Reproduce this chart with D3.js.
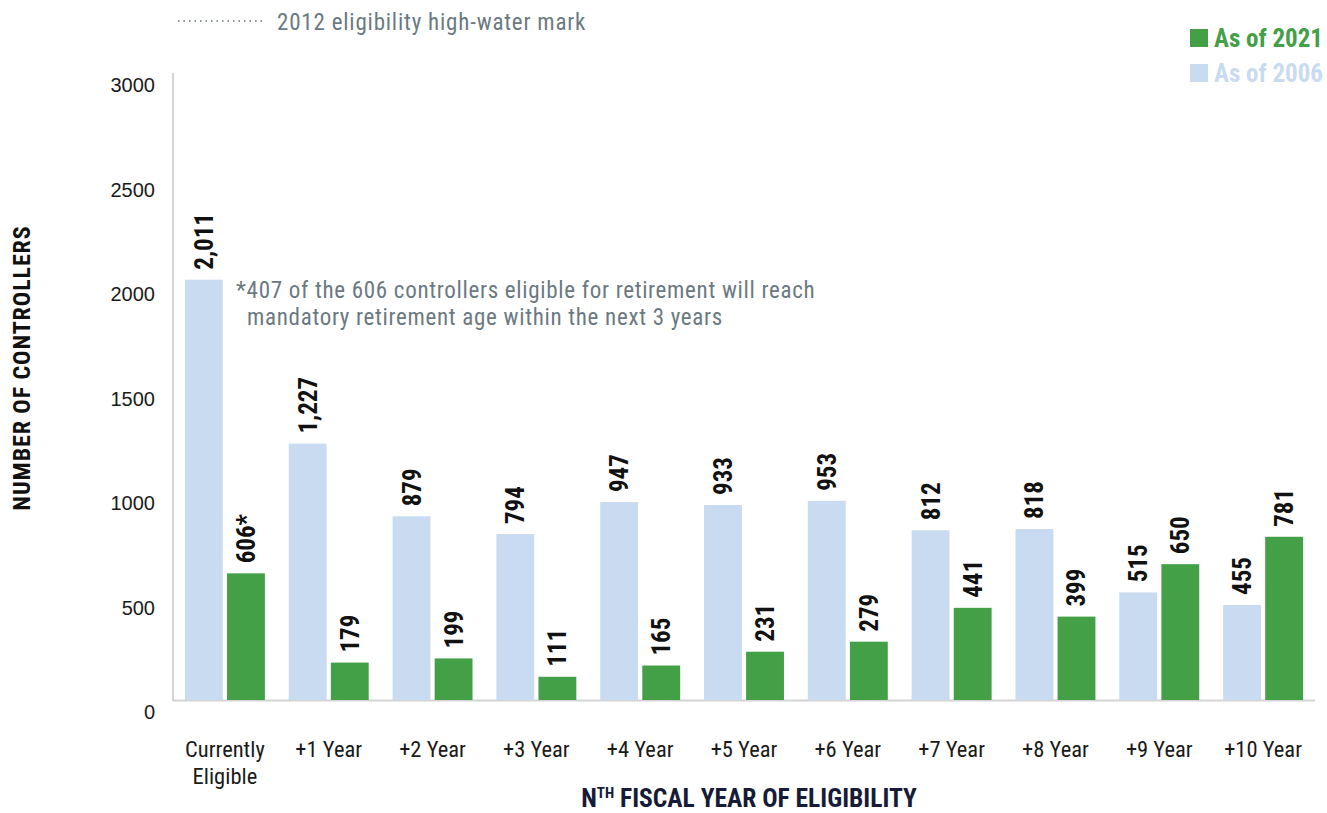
<!DOCTYPE html>
<html>
<head>
<meta charset="utf-8">
<script src="https://cdn.jsdelivr.net/npm/d3@7"></script>
<style>
  html, body { margin: 0; padding: 0; background: #fff; }
  svg { display: block; }
</style>
</head>
<body>
<svg id="chart" width="1327" height="813"></svg>
<script>
// Fiscal-year buckets of retirement eligibility
const categories = ["Currently Eligible", "+1 Year", "+2 Year", "+3 Year", "+4 Year", "+5 Year",
                    "+6 Year", "+7 Year", "+8 Year", "+9 Year", "+10 Year"];
// Controllers eligible, snapshot of 2006
const asOf2006 = [2011, 1227, 879, 794, 947, 933, 953, 812, 818, 515, 455];
// Controllers eligible, snapshot of 2021
const asOf2021 = [606, 179, 199, 111, 165, 231, 279, 441, 399, 650, 781];
const seriesNames = ["As of 2006", "As of 2021"];
const yTicks = [0, 500, 1000, 1500, 2000, 2500, 3000];
const footnote = ["*407 of the 606 controllers eligible for retirement will reach",
                  "mandatory retirement age within the next 3 years"];

const C_BLUE = "#c9dbf0", C_GREEN = "#43a047", C_GRAY = "#6b7982", C_NAVY = "#161b38";
const COND = "'Liberation Sans Narrow', 'Roboto Condensed', 'Arial Narrow', sans-serif";
const REG = "'Liberation Sans', Arial, sans-serif";

const svg = d3.select("#chart");
const m = { left: 173, right: 1315, top: 73, bottom: 700 };

const x = d3.scaleBand().domain(categories).range([m.left, m.right])
  .paddingInner(0.23).paddingOuter(0.115);
const xs = d3.scaleBand().domain(seriesNames).range([0, x.bandwidth()]).paddingInner(0.1);
const y = d3.scaleLinear().domain([0, 3000]).range([m.bottom, m.top]);
const color = d3.scaleOrdinal().domain(seriesNames).range([C_BLUE, C_GREEN]);

const rows = categories.map((c, i) => ({
  cat: c,
  vals: [
    { s: "As of 2006", v: asOf2006[i], label: d3.format(",")(asOf2006[i]) },
    { s: "As of 2021", v: asOf2021[i], label: d3.format(",")(asOf2021[i]) + (i === 0 ? "*" : "") }
  ]
}));

// axis lines
svg.append("line").attr("x1", m.left).attr("x2", m.left).attr("y1", m.top).attr("y2", m.bottom + 1)
  .attr("stroke", "#d4d4d4").attr("stroke-width", 2);
svg.append("line").attr("x1", m.left).attr("x2", m.right).attr("y1", m.bottom + 0.5).attr("y2", m.bottom + 0.5)
  .attr("stroke", "#d4d4d4").attr("stroke-width", 2);

// y tick labels
svg.append("g").selectAll("text").data(yTicks).join("text")
  .attr("x", 155).attr("y", d => y(d) + 19)
  .attr("text-anchor", "end")
  .attr("font-family", REG).attr("font-size", 20).attr("fill", "#1a1a1a")
  .text(d => d);

// bars
const groups = svg.append("g").selectAll("g").data(rows).join("g")
  .attr("transform", d => `translate(${x(d.cat)},0)`);
groups.selectAll("rect").data(d => d.vals).join("rect")
  .attr("x", d => xs(d.s)).attr("width", xs.bandwidth())
  .attr("y", d => y(d.v)).attr("height", d => y(0) - y(d.v))
  .attr("fill", d => color(d.s));

// rotated value labels
groups.selectAll("text.val").data(d => d.vals).join("text")
  .attr("class", "val")
  .attr("transform", d => `translate(${xs(d.s) + xs.bandwidth() / 2},${y(d.v) - 10}) rotate(-90)`)
  .attr("dy", "0.36em")
  .attr("font-family", COND).attr("font-weight", "bold").attr("font-size", 25)
  .attr("fill", "#111")
  .text(d => d.label);

// category labels
const catG = svg.append("g").selectAll("text").data(categories).join("text")
  .attr("x", d => x(d) + x.bandwidth() / 2)
  .attr("y", 757)
  .attr("text-anchor", "middle")
  .attr("font-family", COND).attr("font-size", 22.5).attr("fill", "#1a1a1a");
catG.each(function (d) {
  const t = d3.select(this);
  const parts = d === "Currently Eligible" ? ["Currently", "Eligible"] : [d];
  parts.forEach((p, i) => {
    t.append("tspan").attr("x", x(d) + x.bandwidth() / 2).attr("dy", i === 0 ? 0 : 27).text(p);
  });
});

// axis titles
const xt = svg.append("text").attr("x", 749).attr("y", 807).attr("text-anchor", "middle")
  .attr("font-family", COND).attr("font-weight", "bold").attr("font-size", 25.5).attr("fill", C_NAVY);
xt.append("tspan").text("N");
xt.append("tspan").attr("font-size", 15).attr("dy", -9).text("TH");
xt.append("tspan").attr("dy", 9).text(" FISCAL YEAR OF ELIGIBILITY");

svg.append("text").attr("transform", "translate(30,368) rotate(-90)")
  .attr("text-anchor", "middle")
  .attr("font-family", COND).attr("font-weight", "bold").attr("font-size", 24)
  .attr("letter-spacing", 0.9).attr("fill", "#111")
  .text("NUMBER OF CONTROLLERS");

// footnote
svg.append("text").attr("x", 236).attr("y", 298)
  .attr("font-family", COND).attr("font-size", 23).attr("letter-spacing", 0.7).attr("fill", C_GRAY)
  .selectAll("tspan").data(footnote).join("tspan")
  .attr("x", (d, i) => i === 0 ? 236 : 247).attr("dy", (d, i) => i === 0 ? 0 : 27)
  .text(d => d);

// high-water mark legend entry
svg.append("line").attr("x1", 178).attr("x2", 266).attr("y1", 21).attr("y2", 21)
  .attr("stroke", "#8a959c").attr("stroke-width", 2).attr("stroke-dasharray", "1.5,4");
svg.append("text").attr("x", 277).attr("y", 30)
  .attr("font-family", COND).attr("font-size", 23).attr("letter-spacing", 0.8).attr("fill", C_GRAY)
  .text("2012 eligibility high-water mark");

// series legend
const legendItems = [
  { s: "As of 2021", y: 38 },
  { s: "As of 2006", y: 73 }
];
const lg = svg.append("g").selectAll("g").data(legendItems).join("g");
lg.append("rect").attr("x", 1190).attr("y", d => d.y - 9).attr("width", 18).attr("height", 18)
  .attr("fill", d => color(d.s));
lg.append("text").attr("x", 1214).attr("y", d => d.y + 9)
  .attr("font-family", COND).attr("font-weight", "bold").attr("font-size", 25)
  .attr("fill", d => color(d.s)).text(d => d.s);
</script>
</body>
</html>
